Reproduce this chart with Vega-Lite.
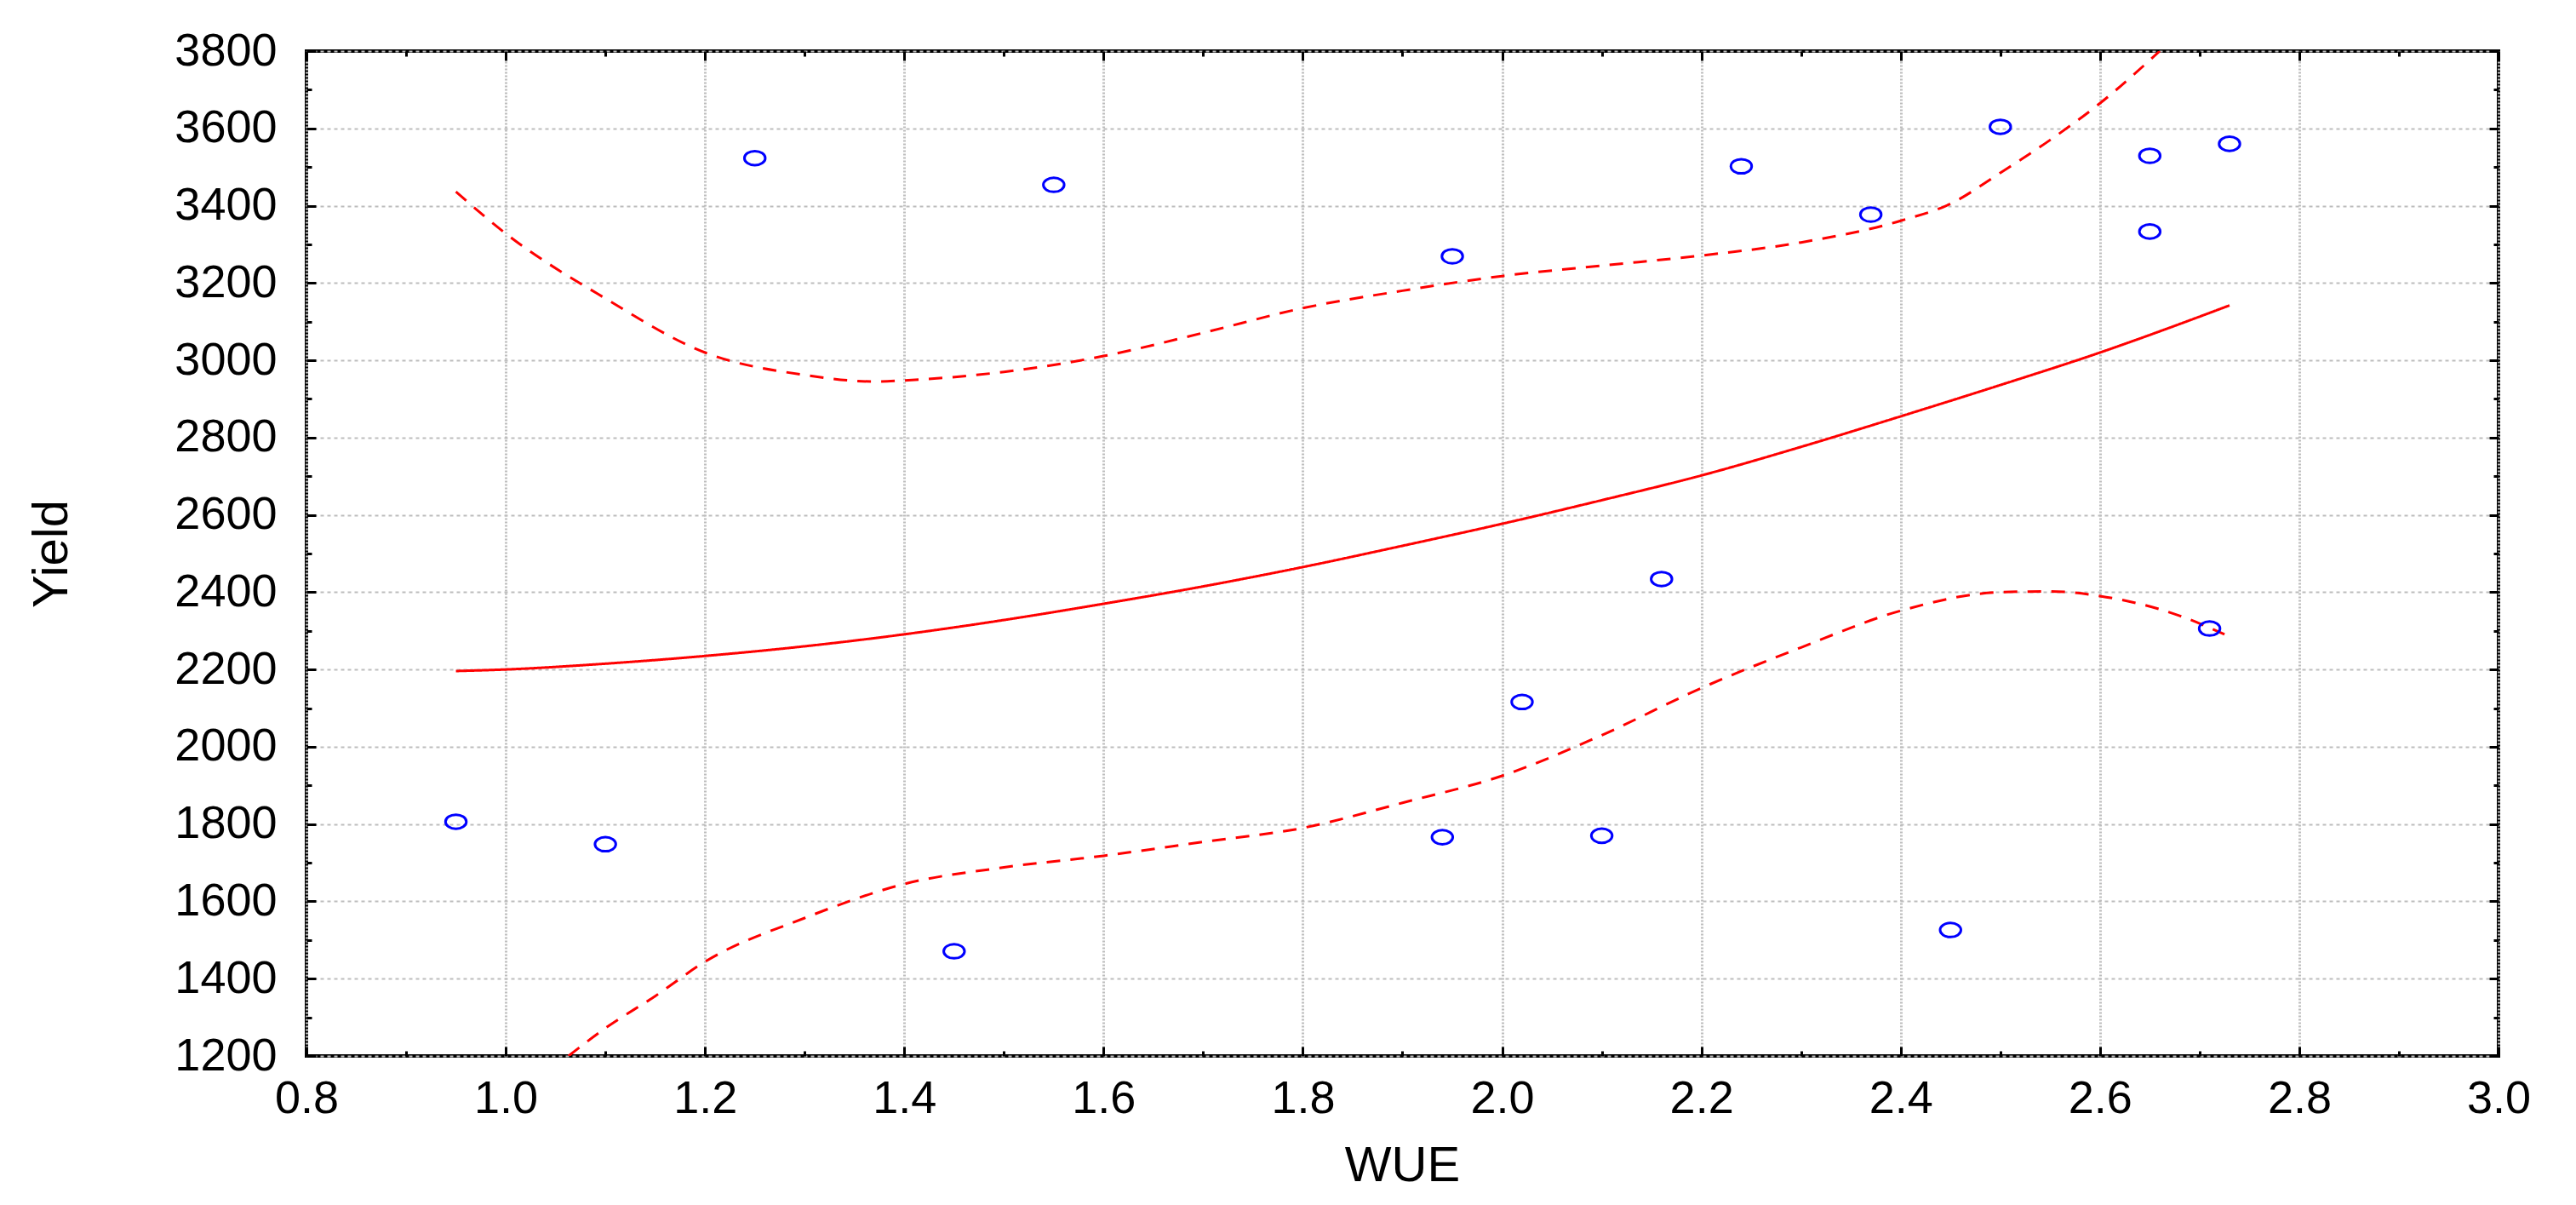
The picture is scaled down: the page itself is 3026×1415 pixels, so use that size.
{
  "$schema": "https://vega.github.io/schema/vega-lite/v6.json",
  "width": 2575,
  "height": 1180,
  "autosize": {"type": "none"},
  "padding": {"left": 360, "top": 60, "right": 91, "bottom": 175},
  "background": "white",
  "config": {
    "view": {"stroke": "black", "strokeWidth": 4},
    "font": "Liberation Sans",
    "axis": {
      "labelFont": "Liberation Sans",
      "labelFontSize": 54,
      "labelColor": "black",
      "titleFont": "Liberation Sans",
      "titleFontSize": 58,
      "titleFontWeight": "normal",
      "titleColor": "black",
      "tickColor": "black",
      "tickWidth": 3,
      "gridColor": "#bdbdbd",
      "domain": false,
      "labelOverlap": false,
      "labelFlush": false
    }
  },
  "datasets": {
    "points": [
      {"WUE": 0.95, "Yield": 1806},
      {"WUE": 1.10, "Yield": 1748},
      {"WUE": 1.25, "Yield": 3523},
      {"WUE": 1.45, "Yield": 1471},
      {"WUE": 1.55, "Yield": 3454},
      {"WUE": 1.94, "Yield": 1766},
      {"WUE": 1.95, "Yield": 3269},
      {"WUE": 2.02, "Yield": 2116},
      {"WUE": 2.10, "Yield": 1770},
      {"WUE": 2.16, "Yield": 2434},
      {"WUE": 2.24, "Yield": 3502},
      {"WUE": 2.37, "Yield": 3377},
      {"WUE": 2.45, "Yield": 1526},
      {"WUE": 2.50, "Yield": 3604},
      {"WUE": 2.65, "Yield": 3529},
      {"WUE": 2.65, "Yield": 3333},
      {"WUE": 2.71, "Yield": 2306},
      {"WUE": 2.73, "Yield": 3560}
    ],
    "curves": [
      {"curve": "fit", "WUE": 0.95, "Yield": 2196},
      {"curve": "fit", "WUE": 1.0, "Yield": 2200},
      {"curve": "fit", "WUE": 1.1, "Yield": 2215},
      {"curve": "fit", "WUE": 1.2, "Yield": 2235},
      {"curve": "fit", "WUE": 1.3, "Yield": 2260},
      {"curve": "fit", "WUE": 1.4, "Yield": 2291},
      {"curve": "fit", "WUE": 1.5, "Yield": 2328},
      {"curve": "fit", "WUE": 1.6, "Yield": 2370},
      {"curve": "fit", "WUE": 1.7, "Yield": 2415},
      {"curve": "fit", "WUE": 1.8, "Yield": 2465},
      {"curve": "fit", "WUE": 1.9, "Yield": 2520},
      {"curve": "fit", "WUE": 2.0, "Yield": 2577},
      {"curve": "fit", "WUE": 2.1, "Yield": 2638},
      {"curve": "fit", "WUE": 2.2, "Yield": 2702},
      {"curve": "fit", "WUE": 2.3, "Yield": 2776},
      {"curve": "fit", "WUE": 2.4, "Yield": 2855},
      {"curve": "fit", "WUE": 2.5, "Yield": 2936},
      {"curve": "fit", "WUE": 2.6, "Yield": 3020},
      {"curve": "fit", "WUE": 2.7, "Yield": 3113},
      {"curve": "fit", "WUE": 2.73, "Yield": 3142},
      {"curve": "upper", "WUE": 0.95, "Yield": 3436},
      {"curve": "upper", "WUE": 1.0, "Yield": 3328},
      {"curve": "upper", "WUE": 1.1, "Yield": 3160},
      {"curve": "upper", "WUE": 1.2, "Yield": 3020},
      {"curve": "upper", "WUE": 1.3, "Yield": 2962},
      {"curve": "upper", "WUE": 1.37, "Yield": 2945},
      {"curve": "upper", "WUE": 1.4, "Yield": 2948},
      {"curve": "upper", "WUE": 1.5, "Yield": 2970},
      {"curve": "upper", "WUE": 1.6, "Yield": 3011},
      {"curve": "upper", "WUE": 1.7, "Yield": 3071},
      {"curve": "upper", "WUE": 1.8, "Yield": 3135},
      {"curve": "upper", "WUE": 1.9, "Yield": 3180},
      {"curve": "upper", "WUE": 2.0, "Yield": 3218},
      {"curve": "upper", "WUE": 2.1, "Yield": 3245},
      {"curve": "upper", "WUE": 2.2, "Yield": 3271},
      {"curve": "upper", "WUE": 2.3, "Yield": 3305},
      {"curve": "upper", "WUE": 2.4, "Yield": 3361},
      {"curve": "upper", "WUE": 2.45, "Yield": 3405},
      {"curve": "upper", "WUE": 2.5, "Yield": 3485},
      {"curve": "upper", "WUE": 2.55, "Yield": 3570},
      {"curve": "upper", "WUE": 2.6, "Yield": 3665},
      {"curve": "upper", "WUE": 2.66, "Yield": 3800},
      {"curve": "lower", "WUE": 1.063, "Yield": 1200},
      {"curve": "lower", "WUE": 1.1, "Yield": 1272},
      {"curve": "lower", "WUE": 1.15, "Yield": 1355},
      {"curve": "lower", "WUE": 1.2, "Yield": 1444},
      {"curve": "lower", "WUE": 1.3, "Yield": 1557},
      {"curve": "lower", "WUE": 1.4, "Yield": 1645},
      {"curve": "lower", "WUE": 1.5, "Yield": 1688},
      {"curve": "lower", "WUE": 1.6, "Yield": 1718},
      {"curve": "lower", "WUE": 1.7, "Yield": 1754},
      {"curve": "lower", "WUE": 1.8, "Yield": 1790},
      {"curve": "lower", "WUE": 1.9, "Yield": 1855},
      {"curve": "lower", "WUE": 2.0, "Yield": 1925},
      {"curve": "lower", "WUE": 2.1, "Yield": 2030},
      {"curve": "lower", "WUE": 2.2, "Yield": 2152},
      {"curve": "lower", "WUE": 2.3, "Yield": 2257},
      {"curve": "lower", "WUE": 2.4, "Yield": 2352},
      {"curve": "lower", "WUE": 2.5, "Yield": 2400},
      {"curve": "lower", "WUE": 2.55, "Yield": 2402},
      {"curve": "lower", "WUE": 2.6, "Yield": 2390},
      {"curve": "lower", "WUE": 2.68, "Yield": 2339},
      {"curve": "lower", "WUE": 2.725, "Yield": 2291}
    ]
  },
  "layer": [
    {
      "data": {"name": "curves"},
      "mark": {"type": "line", "color": "#ff0000", "strokeWidth": 3, "clip": true, "interpolate": "monotone"},
      "encoding": {
        "x": {
          "field": "WUE", "type": "quantitative",
          "scale": {"domain": [0.8, 3.0], "nice": false, "zero": false},
          "axis": {
            "orient": "top", "labels": false, "grid": false, "title": null,
            "values": [0.8,0.9,1.0,1.1,1.2,1.3,1.4,1.5,1.6,1.7,1.8,1.9,2.0,2.1,2.2,2.3,2.4,2.5,2.6,2.7,2.8,2.9,3.0],
            "tickSize": {"condition": {"test": "abs(datum.value*5 - round(datum.value*5)) < 0.001", "value": -11}, "value": -6}
          }
        },
        "y": {
          "field": "Yield", "type": "quantitative",
          "scale": {"domain": [1200, 3800], "nice": false, "zero": false},
          "axis": {
            "orient": "right", "labels": false, "grid": false, "title": null,
            "values": [1200,1300,1400,1500,1600,1700,1800,1900,2000,2100,2200,2300,2400,2500,2600,2700,2800,2900,3000,3100,3200,3300,3400,3500,3600,3700,3800],
            "tickSize": {"condition": {"test": "datum.value % 200 == 0", "value": -11}, "value": -6}
          }
        },
        "detail": {"field": "curve"},
        "strokeDash": {
          "field": "curve", "type": "nominal",
          "scale": {"domain": ["fit", "upper", "lower"], "range": [[1, 0], [16, 12], [16, 12]]},
          "legend": null
        }
      }
    },
    {
      "data": {"name": "points"},
      "mark": {
        "type": "point",
        "shape": "M -1 0 A 1 0.68 0 1 0 1 0 A 1 0.68 0 1 0 -1 0 Z",
        "filled": false,
        "color": "#0000ff",
        "size": 600,
        "strokeWidth": 3,
        "opacity": 1
      },
      "encoding": {
        "x": {
          "field": "WUE", "type": "quantitative",
          "axis": {
            "orient": "bottom", "grid": true, "title": "WUE",
            "gridWidth": 3,
            "gridDash": [2, 2],
            "values": [0.8,0.9,1.0,1.1,1.2,1.3,1.4,1.5,1.6,1.7,1.8,1.9,2.0,2.1,2.2,2.3,2.4,2.5,2.6,2.7,2.8,2.9,3.0],
            "labelExpr": "abs(datum.value*5 - round(datum.value*5)) < 0.001 ? format(datum.value, '.1f') : ''",
            "labelBaseline": "top",
            "labelPadding": 34,
            "gridOpacity": {"condition": {"test": "abs(datum.value*5 - round(datum.value*5)) < 0.001", "value": 1}, "value": 0},
            "tickSize": {"condition": {"test": "abs(datum.value*5 - round(datum.value*5)) < 0.001", "value": -11}, "value": -6},
            "titleX": 1287,
            "titleY": 129,
            "titleBaseline": "middle",
            "titleAlign": "center"
          }
        },
        "y": {
          "field": "Yield", "type": "quantitative",
          "axis": {
            "orient": "left", "grid": true, "title": "Yield",
            "gridWidth": 2,
            "gridDash": [4, 4],
            "values": [1200,1300,1400,1500,1600,1700,1800,1900,2000,2100,2200,2300,2400,2500,2600,2700,2800,2900,3000,3100,3200,3300,3400,3500,3600,3700,3800],
            "labelExpr": "datum.value % 200 == 0 ? format(datum.value, 'd') : ''",
            "labelPadding": 46,
            "gridOpacity": {"condition": {"test": "datum.value % 200 == 0", "value": 1}, "value": 0},
            "tickSize": {"condition": {"test": "datum.value % 200 == 0", "value": -11}, "value": -6},
            "titleX": -299,
            "titleY": 590,
            "titleAngle": 270,
            "titleBaseline": "middle",
            "titleAlign": "center"
          }
        }
      }
    }
  ],
  "resolve": {"axis": {"x": "independent", "y": "independent"}}
}
